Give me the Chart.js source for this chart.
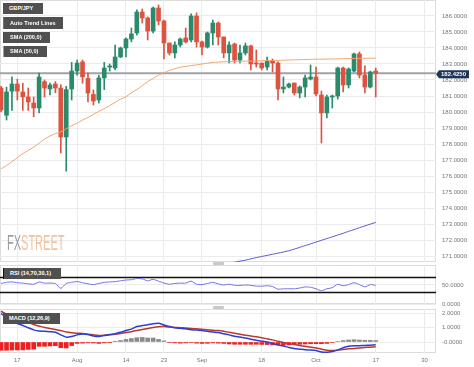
<!DOCTYPE html>
<html>
<head>
<meta charset="utf-8">
<script src="https://cdn.jsdelivr.net/npm/chart.js@4.4.0/dist/chart.umd.min.js"></script>
<style>
body { margin: 0; background: #fff; }
#wrap { position: relative; width: 474px; height: 367px; overflow: hidden; font-family: "Liberation Sans", Arial, sans-serif; }
canvas { position: absolute; left: 0; }
.tag { position: absolute; left: 3px; height: 11px; line-height: 11px; box-sizing: border-box; padding-left: 6px;
       background: #505050; color: #fff; font-size: 5.6px; font-weight: bold; white-space: nowrap; z-index: 5; }
.handle { position: absolute; left: 213px; width: 11px; height: 3px; background: #c8c8c8; border-radius: 1px; z-index: 5; }
.logo { position: absolute; left: 7px; top: 231px; font-size: 22px; line-height: 24px; letter-spacing: 0;
        transform: scaleX(0.5); transform-origin: left top; z-index: 4; opacity: 0.85; }
</style>
</head>
<body>
<div id="wrap">
  <canvas id="priceChart" width="474" height="262" style="top:0"></canvas>
  <canvas id="rsiChart" width="474" height="48" style="top:262px"></canvas>
  <canvas id="macdChart" width="474" height="61" style="top:306px"></canvas>

  <div class="tag" style="top:3px;width:40px">GBP/JPY</div>
  <div class="tag" style="top:17px;width:60px;height:12px;line-height:12px;border-left:1.5px solid #2f9a5c">Auto Trend Lines</div>
  <div class="tag" style="top:32px;width:47px;border-left:1.5px solid #2b3fd0">SMA (200,0)</div>
  <div class="tag" style="top:46px;width:44px;border-left:1.5px solid #f08a3c">SMA (50,0)</div>
  <div class="tag" style="top:268px;width:58px;border-left:1.5px solid #111">RSI (14,70,30,1)</div>
  <div class="tag" style="top:313px;width:57px">MACD (12,26,9)</div>

  <div class="handle" style="top:262px"></div>
  <div class="handle" style="top:306px"></div>

  <div class="logo"><span style="color:#8c8c8c">FX</span><span style="color:#ecb98c">STREET</span></div>
</div>

<script>
// ==============================
// Data
// ==============================

const tickDays = ["2023-07-17", "2023-08-01", "2023-08-14", "2023-08-23", "2023-09-01", "2023-09-18", "2023-10-02", "2023-10-17", "2023-10-30"];
const tickText = ["17", "Aug", "14", "23", "Sep", "18", "Oct", "17", "30"];

const priceTicks = [171, 172, 173, 174, 175, 176, 177, 178, 179, 180, 181, 182, 183, 184, 185, 186];
const rsiTicks = [0, 50];
const rsiLevels = [70, 30];
const macdTicks = [0, 1, 2];
const macdTickText = ["-0.0000", "1.0000", "2.0000"];

const open = [
    181.5, 179.8, 181.3, 181.75, 181.25, 180.94, 180.56, 180.25, 181.9, 181.44,
    181.75, 181.5, 178.44, 181.44, 182.56, 183.13, 182.1, 181.1, 180.75, 182.13,
    182.81, 182.75, 183.44, 184.0, 184.56, 184.94, 186.25, 185.88, 185.06, 186.5,
    185.69, 184.31, 183.69, 184.19, 184.63, 184.5, 186.0, 184.38, 184.06, 184.94,
    185.56, 184.69, 183.69, 184.25, 183.25, 183.69, 184.13, 183.06, 183.06, 182.81,
    183.19, 183.06, 181.44, 181.56, 181.81, 181.19, 181.56, 182.06, 182.19, 181.06,
    179.94, 180.94, 181.0, 182.75, 181.69, 182.56, 183.63, 182.31, 181.56, 182.56
];
const high = [
    181.6, 181.55, 182.2, 182.05, 181.8, 181.5, 180.94, 182.44, 182.0, 181.8,
    181.9, 181.7, 181.6, 183.1, 183.25, 183.25, 182.44, 181.38, 182.3, 183.1,
    183.0, 184.19, 184.06, 184.63, 185.25, 186.38, 186.44, 185.94, 186.56, 186.69,
    185.75, 184.31, 184.38, 184.63, 185.25, 186.13, 186.19, 184.44, 185.0, 185.75,
    185.63, 184.69, 184.38, 184.31, 184.19, 184.31, 184.19, 183.88, 183.06, 183.44,
    183.31, 183.13, 182.19, 181.81, 181.81, 181.63, 182.31, 182.94, 182.81, 181.31,
    181.06, 181.06, 182.81, 182.81, 182.75, 183.69, 183.75, 182.88, 182.56, 182.75
];
const low = [
    180.0, 179.5, 180.1, 180.75, 180.1, 180.1, 179.7, 179.94, 180.94, 181.06,
    181.2, 177.44, 176.3, 180.75, 182.3, 181.8, 180.63, 180.44, 180.56, 181.4,
    182.56, 182.63, 183.4, 183.44, 184.38, 184.81, 185.56, 184.5, 184.94, 185.44,
    183.31, 183.56, 183.38, 184.06, 184.31, 184.38, 184.06, 183.56, 184.0, 184.19,
    184.19, 183.38, 183.06, 183.06, 183.06, 183.56, 182.63, 182.81, 182.63, 182.63,
    182.5, 180.75, 181.19, 181.5, 181.06, 180.88, 180.94, 182.0, 181.0, 178.06,
    179.63, 180.25, 180.81, 181.25, 181.5, 182.5, 182.13, 181.19, 181.5, 180.94
];
const close = [
    180.13, 181.25, 181.75, 181.3, 180.95, 180.63, 180.25, 182.19, 181.5, 181.69,
    181.5, 178.44, 181.4, 182.56, 183.06, 182.19, 181.19, 180.69, 182.13, 182.75,
    182.88, 183.44, 184.0, 184.56, 184.88, 186.25, 185.88, 185.06, 186.5, 185.69,
    184.31, 183.69, 184.19, 184.56, 184.38, 186.0, 184.38, 184.06, 184.94, 185.56,
    184.69, 183.69, 184.19, 183.25, 183.69, 184.13, 183.0, 183.0, 182.75, 183.19,
    183.06, 181.44, 181.56, 181.75, 181.19, 181.56, 182.13, 182.19, 181.13, 179.94,
    180.94, 181.0, 182.75, 181.69, 182.69, 183.63, 182.31, 181.56, 182.5, 182.425
];

const sma50 = [
    176.45, 176.65, 176.9, 177.15, 177.4, 177.6, 177.8, 178.05, 178.3, 178.5,
    178.65, 178.75, 178.95, 179.15, 179.3, 179.5, 179.65, 179.85, 180.05, 180.2,
    180.4, 180.6, 180.8, 180.95, 181.2, 181.4, 181.65, 181.9, 182.1, 182.3,
    182.45, 182.6, 182.7, 182.8, 182.85, 182.9, 182.95, 183.0, 183.05, 183.1,
    183.12, 183.14, 183.15, 183.16, 183.17, 183.18, 183.18, 183.19, 183.2, 183.21,
    183.22, 183.23, 183.24, 183.25, 183.26, 183.27, 183.28, 183.29, 183.3, 183.3,
    183.31, 183.31, 183.32, 183.33, 183.34, 183.35, 183.35, 183.36, 183.36, 183.37
];

// SMA 200 only reaches the visible range from about the 40th bar on
const sma200Start = 40;
const sma200 = [
    170.4, 170.47, 170.54, 170.61, 170.68, 170.74, 170.82, 170.9, 170.97, 171.04,
    171.11, 171.18, 171.25, 171.33, 171.43, 171.54, 171.65, 171.76, 171.87, 171.98,
    172.09, 172.2, 172.31, 172.42, 172.54, 172.65, 172.77, 172.88, 172.99, 173.1
];

const rsi = [
    54, 57, 58, 56, 55, 53, 52, 58, 55, 55,
    54, 41, 54, 57, 59, 56, 53, 51, 54, 57,
    58, 59, 61, 63, 64, 67, 66, 61, 65, 60,
    55, 52, 54, 55, 55, 60, 52, 51, 54, 57,
    53, 50, 52, 49, 49, 50, 49, 47, 47, 48,
    46, 39, 40, 40, 40, 42, 45, 44, 40, 35,
    40, 43, 52, 48, 51, 56, 51, 45, 51, 49
];

const macd = [
    2.0, 1.7, 1.42, 1.3, 1.15, 1.0, 0.85, 0.77, 0.75, 0.72,
    0.68, 0.5, 0.33, 0.38, 0.5, 0.56, 0.52, 0.42, 0.38, 0.45,
    0.51, 0.58, 0.68, 0.8, 0.9, 1.08, 1.15, 1.2, 1.28, 1.31,
    1.19, 1.08, 1.0, 0.96, 0.92, 0.86, 0.84, 0.8, 0.75, 0.7,
    0.66, 0.58, 0.5, 0.4, 0.35, 0.28, 0.2, 0.12, 0.06, 0.0,
    -0.1, -0.2, -0.28, -0.38, -0.45, -0.5, -0.55, -0.56, -0.6, -0.7,
    -0.72, -0.66, -0.55, -0.4, -0.3, -0.27, -0.26, -0.24, -0.22, -0.2
];
const signal = [
    2.15, 1.95, 1.8, 1.65, 1.5, 1.38, 1.22, 1.12, 1.02, 0.95,
    0.88, 0.8, 0.7, 0.65, 0.62, 0.6, 0.55, 0.5, 0.46, 0.48,
    0.52, 0.55, 0.6, 0.66, 0.72, 0.8, 0.88, 0.95, 1.02, 1.07,
    1.08, 1.05, 1.02, 1.0, 0.98, 0.95, 0.92, 0.9, 0.85, 0.82,
    0.8, 0.75, 0.68, 0.62, 0.55, 0.48, 0.42, 0.36, 0.3, 0.22,
    0.15, 0.05, -0.03, -0.1, -0.18, -0.25, -0.3, -0.36, -0.42, -0.5,
    -0.58, -0.6, -0.57, -0.52, -0.48, -0.45, -0.42, -0.39, -0.36, -0.33
];
const hist = [
    -0.58, -0.58, -0.56, -0.56, -0.55, -0.52, -0.5, -0.3, -0.3, -0.28,
    -0.26, -0.4, -0.42, -0.25, -0.1, -0.08, -0.06, -0.07, -0.1, -0.06,
    -0.02, 0.05, 0.1, 0.18, 0.24, 0.3, 0.32, 0.28, 0.28, 0.18,
    0.08, -0.04, -0.06, -0.08, -0.06, -0.04, -0.08, -0.1, -0.09, -0.06,
    -0.08, -0.1, -0.14, -0.16, -0.16, -0.16, -0.16, -0.16, -0.17, -0.18,
    -0.2, -0.22, -0.22, -0.2, -0.18, -0.16, -0.14, -0.12, -0.12, -0.12,
    -0.1, -0.04, 0.04, 0.1, 0.14, 0.16, 0.14, 0.12, 0.12, 0.1
];

// ==============================
// Trading days (weekdays only)
// ==============================

const days = [];
for (let d = new Date(Date.UTC(2023, 6, 12)); days.length < 82; d.setUTCDate(d.getUTCDate() + 1)) {
    const wd = d.getUTCDay();
    if (wd !== 0 && wd !== 6) days.push(d.toISOString().slice(0, 10));
}
const tickIdx = tickDays.map(d => days.indexOf(d));
const lastPrice = close[close.length - 1];

const GREEN = "#2b8a6b";
const RED = "#dd5340";
const candleColors = close.map((c, i) => c >= open[i] ? GREEN : RED);

// ==============================
// Shared pieces
// ==============================

Chart.defaults.font.family = '"Liberation Sans", Arial, sans-serif';
Chart.defaults.animation = false;
Chart.defaults.plugins.legend.display = false;
Chart.defaults.plugins.tooltip.enabled = false;

// the axes should not push the plot area inwards to make room for labels
function noPadding(s) {
    s.paddingTop = 0;
    s.paddingBottom = 0;
    s.paddingLeft = 0;
    s.paddingRight = 0;
}

function xAxis(showLabels) {
    return {
        type: "linear",
        min: -0.2,
        max: 80.1,
        offset: false,
        grid: { color: "#ebebeb", drawTicks: false, offset: false },
        border: { display: false },
        ticks: {
            display: showLabels,
            color: "#777",
            font: { size: 6 },
            padding: 4,
            maxRotation: 0,
            autoSkip: false,
            callback: (v, i) => tickText[i]
        },
        afterBuildTicks: s => { s.ticks = tickIdx.map(v => ({ value: v })); },
        afterFit: s => {
            s.height = showLabels ? 14 : 0;
            noPadding(s);
        }
    };
}

function yAxis(min, max, ticks, label) {
    return {
        position: "right",
        min: min,
        max: max,
        grid: { color: "#ebebeb", drawTicks: false },
        border: { display: false },
        ticks: { color: "#777", font: { size: 6 }, padding: 6, callback: label },
        afterBuildTicks: s => { s.ticks = ticks.map(v => ({ value: v })); },
        afterFit: s => {
            s.width = 38;
            noPadding(s);
        }
    };
}

const panelFrame = {
    id: "panelFrame",
    beforeDraw(chart) {
        const { ctx, chartArea: a } = chart;
        ctx.save();
        ctx.strokeStyle = "#dcdcdc";
        ctx.lineWidth = 1;
        ctx.strokeRect(a.left + 0.5, a.top + 0.5, a.width - 1, a.height - 1);
        ctx.restore();
    }
};

// ==============================
// Price panel
// ==============================

const lastPriceLine = {
    id: "lastPriceLine",
    beforeDatasetsDraw(chart) {
        const { ctx, chartArea: a, scales } = chart;
        const y = scales.y.getPixelForValue(lastPrice);
        ctx.save();
        ctx.strokeStyle = "#9ea3aa";
        ctx.lineWidth = 2;
        ctx.beginPath();
        ctx.moveTo(a.left, y);
        ctx.lineTo(a.right, y);
        ctx.stroke();
        ctx.restore();
    },
    afterDraw(chart) {
        const { ctx, chartArea: a, scales } = chart;
        const y = scales.y.getPixelForValue(lastPrice) + 1;
        const x = a.right + 2;
        ctx.save();
        ctx.fillStyle = "#1d3658";
        ctx.beginPath();
        ctx.moveTo(x - 2, y);
        ctx.lineTo(x + 1, y - 4);
        ctx.lineTo(x + 31, y - 4);
        ctx.lineTo(x + 31, y + 4);
        ctx.lineTo(x + 1, y + 4);
        ctx.closePath();
        ctx.fill();
        ctx.fillStyle = "#fff";
        ctx.font = 'bold 6px "Liberation Sans", Arial, sans-serif';
        ctx.textBaseline = "middle";
        ctx.fillText(lastPrice.toFixed(4), x + 3, y + 0.5);
        ctx.restore();
    }
};

new Chart(document.getElementById("priceChart"), {
    type: "bar",
    data: {
        datasets: [
            {
                type: "line",
                data: sma50.map((v, i) => ({ x: i, y: v })),
                borderColor: "#f2a46e",
                borderWidth: 1,
                pointRadius: 0,
                tension: 0.3,
                order: 0
            },
            {
                type: "line",
                data: sma200.map((v, i) => ({ x: sma200Start + i, y: v })),
                borderColor: "#5b5ad6",
                borderWidth: 1,
                pointRadius: 0,
                tension: 0.3,
                order: 0
            },
            {
                data: open.map((o, i) => ({ x: i, y: [o, close[i]] })),
                backgroundColor: candleColors,
                barThickness: 4,
                minBarLength: 1,
                grouped: false,
                order: 1
            },
            {
                data: low.map((l, i) => ({ x: i, y: [l, high[i]] })),
                backgroundColor: candleColors,
                barThickness: 1,
                grouped: false,
                order: 2
            }
        ]
    },
    options: {
        responsive: false,
        devicePixelRatio: 1,
        layout: { padding: 0 },
        scales: {
            x: xAxis(false),
            y: yAxis(170.625, 187, priceTicks, v => v.toFixed(4))
        }
    },
    plugins: [panelFrame, lastPriceLine]
});

// ==============================
// RSI panel
// ==============================

const rsiBands = {
    id: "rsiBands",
    beforeDatasetsDraw(chart) {
        const { ctx, chartArea: a, scales } = chart;
        ctx.save();
        ctx.strokeStyle = "#111";
        ctx.lineWidth = 1.5;
        rsiLevels.forEach(level => {
            const y = scales.y.getPixelForValue(level);
            ctx.beginPath();
            ctx.moveTo(a.left, y);
            ctx.lineTo(a.right, y);
            ctx.stroke();
        });
        ctx.restore();
    }
};

new Chart(document.getElementById("rsiChart"), {
    type: "line",
    data: {
        datasets: [{
            data: rsi.map((v, i) => ({ x: i, y: v })),
            borderColor: "#7070e0",
            borderWidth: 1,
            pointRadius: 0,
            tension: 0.2
        }]
    },
    options: {
        responsive: false,
        devicePixelRatio: 1,
        layout: { padding: { top: 3, bottom: 6 } },
        scales: {
            x: xAxis(false),
            y: yAxis(0, 102.6, rsiTicks, v => v.toFixed(4))
        }
    },
    plugins: [panelFrame, rsiBands]
});

// ==============================
// MACD panel
// ==============================

new Chart(document.getElementById("macdChart"), {
    type: "bar",
    data: {
        datasets: [
            {
                type: "line",
                data: macd.map((v, i) => ({ x: i, y: v })),
                borderColor: "#2a3fd8",
                borderWidth: 1.5,
                pointRadius: 0,
                tension: 0.2,
                order: 0
            },
            {
                type: "line",
                data: signal.map((v, i) => ({ x: i, y: v })),
                borderColor: "#b83a2e",
                borderWidth: 1.5,
                pointRadius: 0,
                tension: 0.2,
                order: 0
            },
            {
                data: hist.map((v, i) => ({ x: i, y: v })),
                backgroundColor: hist.map(v => v < 0 ? "#f01e1e" : "#8a8a8a"),
                barThickness: 4,
                order: 1
            }
        ]
    },
    options: {
        responsive: false,
        devicePixelRatio: 1,
        layout: { padding: { top: 3 } },
        scales: {
            x: xAxis(true),
            y: yAxis(-0.77, 2.31, macdTicks, (v, i) => macdTickText[i])
        }
    },
    plugins: [panelFrame]
});
</script>
</body>
</html>
